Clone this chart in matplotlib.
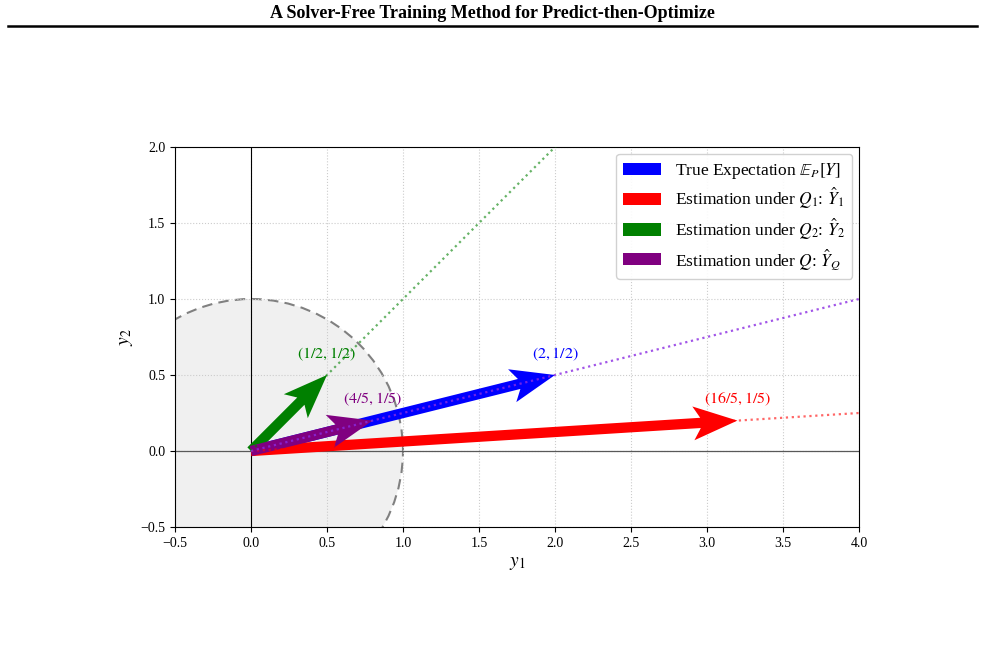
import numpy as np
import matplotlib
matplotlib.use("Agg")
import matplotlib.pyplot as plt
from matplotlib.patches import Circle

plt.rcParams['font.family'] = ['Liberation Serif', 'DejaVu Serif']
plt.rcParams['mathtext.fontset'] = 'stix'

# data
vec_names = ["True Expectation $\\mathbb{E}_P[Y]$",
             "Estimation under $Q_1$: $\\hat{Y}_1$",
             "Estimation under $Q_2$: $\\hat{Y}_2$",
             "Estimation under $Q$: $\\hat{Y}_Q$"]
vec_x = [2.0, 3.2, 0.5, 0.8]
vec_y = [0.5, 0.2, 0.5, 0.2]
vec_colors = ["blue", "red", "green", "purple"]
vec_labels = ["$(2, 1/2)$", "$(16/5, 1/5)$", "$(1/2, 1/2)$", "$(4/5, 1/5)$"]
ray_colors = ["blueviolet", "red", "green", "blueviolet"]
xticks = [-0.5, 0.0, 0.5, 1.0, 1.5, 2.0, 2.5, 3.0, 3.5, 4.0]
yticks = [-0.5, 0.0, 0.5, 1.0, 1.5, 2.0]

fig = plt.figure(figsize=(9.85, 6.45), dpi=100)
fig.text(0.5, 1 - 13.5/645, "A Solver-Free Training Method for Predict-then-Optimize",
         ha='center', va='center', fontsize=13, fontweight='bold')
fig.add_artist(plt.Line2D([8/985, 977/985], [1 - 25.5/645, 1 - 25.5/645],
                          color='black', lw=1.8))

ax = fig.add_axes([175/985, 1 - 527/645, 684/985, 380/645])
ax.set_xlim(-0.5, 4.0)
ax.set_ylim(-0.5, 2.0)

circ = Circle((0, 0), 1.0, facecolor='#f0f0f0', edgecolor='gray',
              linestyle=(0, (5, 3)), lw=1.5, zorder=0.5)
ax.add_patch(circ)

ax.axhline(0, color='0.35', lw=0.9, zorder=1)
ax.axvline(0, color='black', lw=0.8, zorder=1)
ax.grid(True, linestyle=':', color='0.8', lw=0.8)
ax.set_axisbelow(True)

# dotted rays
t = np.array([0.0, 10.0])
for i in [1, 2, 3]:
    ax.plot(t * vec_x[i], t * vec_y[i], linestyle=':', color=ray_colors[i],
            lw=1.6, alpha=0.6 if i != 3 else 0.8, zorder=4)

# arrows
for i in [0, 1, 2, 3]:
    ax.quiver(0, 0, vec_x[i], vec_y[i], angles='xy', scale_units='xy', scale=1,
              color=vec_colors[i], width=0.015, headwidth=3.3, headlength=4.3,
              headaxislength=3.6, label=vec_names[i], zorder=3)

for i in range(4):
    ax.text(vec_x[i], vec_y[i] + 0.08, vec_labels[i], color=vec_colors[i],
            ha='center', va='bottom', fontsize=11.5, zorder=5)

ax.set_xticks(xticks)
ax.set_yticks(yticks)
ax.tick_params(labelsize=10)
ax.set_xlabel("$y_1$", fontsize=14)
ax.set_ylabel("$y_2$", fontsize=14)

ax.legend(loc='upper right', fontsize=12.5, handlelength=2.2, borderpad=0.4,
          labelspacing=0.3, framealpha=0.9, borderaxespad=0.4)

fig.savefig("out.png", dpi=100)
